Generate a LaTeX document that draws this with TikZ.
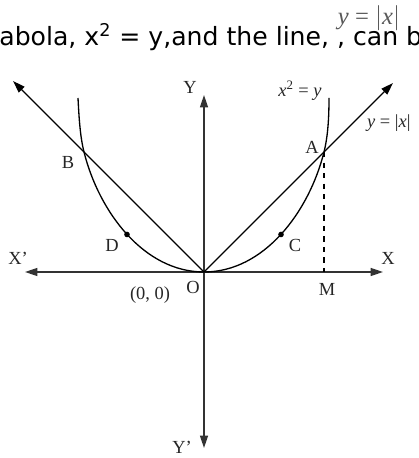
\documentclass[tikz,border=0pt]{standalone}
\usepackage{fontspec}
\setmainfont{Liberation Serif}
\newfontfamily\webfont{DejaVu Sans}
\usetikzlibrary{arrows.meta}
\tikzset{
  >={Triangle[length=7pt,width=4.5pt]},
  axis/.style={<->,line width=0.9pt,draw=black!80},
  curve/.style={line width=0.75pt},
  lbl/.style={font=\fontsize{10.5}{12}\selectfont,text=black!85,inner sep=1pt},
  dot/.style={circle,fill=black,inner sep=0pt,minimum size=3.2pt}
}
\begin{document}
\begin{tikzpicture}
  \useasboundingbox (-4.08,-3.72) rectangle (4.30,5.44);
  \coordinate (O) at (0,0);
  \coordinate (Xl) at (-3.58,0);
  \coordinate (Xr) at (3.58,0);
  \coordinate (Yt) at (0,3.54);
  \coordinate (Yb) at (0,-3.52);
  \coordinate (Ll) at (-3.82,3.82);
  \coordinate (Lr) at (3.78,3.78);
  \coordinate (A) at (2.4,2.4);
  \coordinate (B) at (-2.4,2.4);
  \coordinate (M) at (2.4,0);
  \coordinate (Pl) at (-2.52,3.48);
  \coordinate (Pr) at (2.5,3.48);
  \node[anchor=base west,font=\webfont\fontsize{14.3}{17}\selectfont,inner sep=0pt] (txt) at (-4.1,4.52)
    {abola, x\textsuperscript{2} = y,and the line, , can b};
  \node[font=\fontsize{14}{16}\selectfont,text=black!65,inner sep=0pt] (eq) at (3.3,5.08)
    {\textit{y} = $\bigl|$\textit{x}$\bigr|$};
  \draw[axis] (Xl) -- (Xr);
  \draw[axis] (Yb) -- (Yt);
  \draw[->,curve] (O) -- (Lr);
  \draw[->,curve] (O) -- (Ll);
  \draw[curve] (Pl) .. controls (-2.5,3.1) and (-2.48,2.72) .. (B)
    .. controls (-2.1,1.2) and (-1.2,0) .. (O)
    .. controls (1.2,0) and (2.1,1.2) .. (A)
    .. controls (2.48,2.72) and (2.5,3.1) .. (Pr);
  \draw[dashed,line width=0.6pt] (A) -- (M);
  \node[dot] (C) at (1.54,0.75) {};
  \node[dot] (D) at (-1.54,0.75) {};
  \node[lbl] (lbY) at (-0.28,3.7) {Y};
  \node[lbl] (lbYb) at (-0.44,-3.5) {Y'};
  \node[lbl] (lbXl) at (-3.72,0.28) {X'};
  \node[lbl] (lbXr) at (3.68,0.28) {X};
  \node[lbl] (lbO) at (-0.22,-0.3) {O};
  \node[lbl] (lbOO) at (-1.08,-0.46) {(0, 0)};
  \node[lbl] (lbM) at (2.46,-0.34) {M};
  \node[lbl] (lbA) at (2.16,2.5) {A};
  \node[lbl] (lbB) at (-2.72,2.2) {B};
  \node[lbl] (lbC) at (1.82,0.54) {C};
  \node[lbl] (lbD) at (-1.84,0.54) {D};
  \node[lbl] (lbpar) at (1.92,3.62) {\textit{x}\textsuperscript{2} = \textit{y}};
  \node[lbl,anchor=west] (lbline) at (3.22,2.98) {\textit{y} = |\textit{x}|};
\end{tikzpicture}
\end{document}
